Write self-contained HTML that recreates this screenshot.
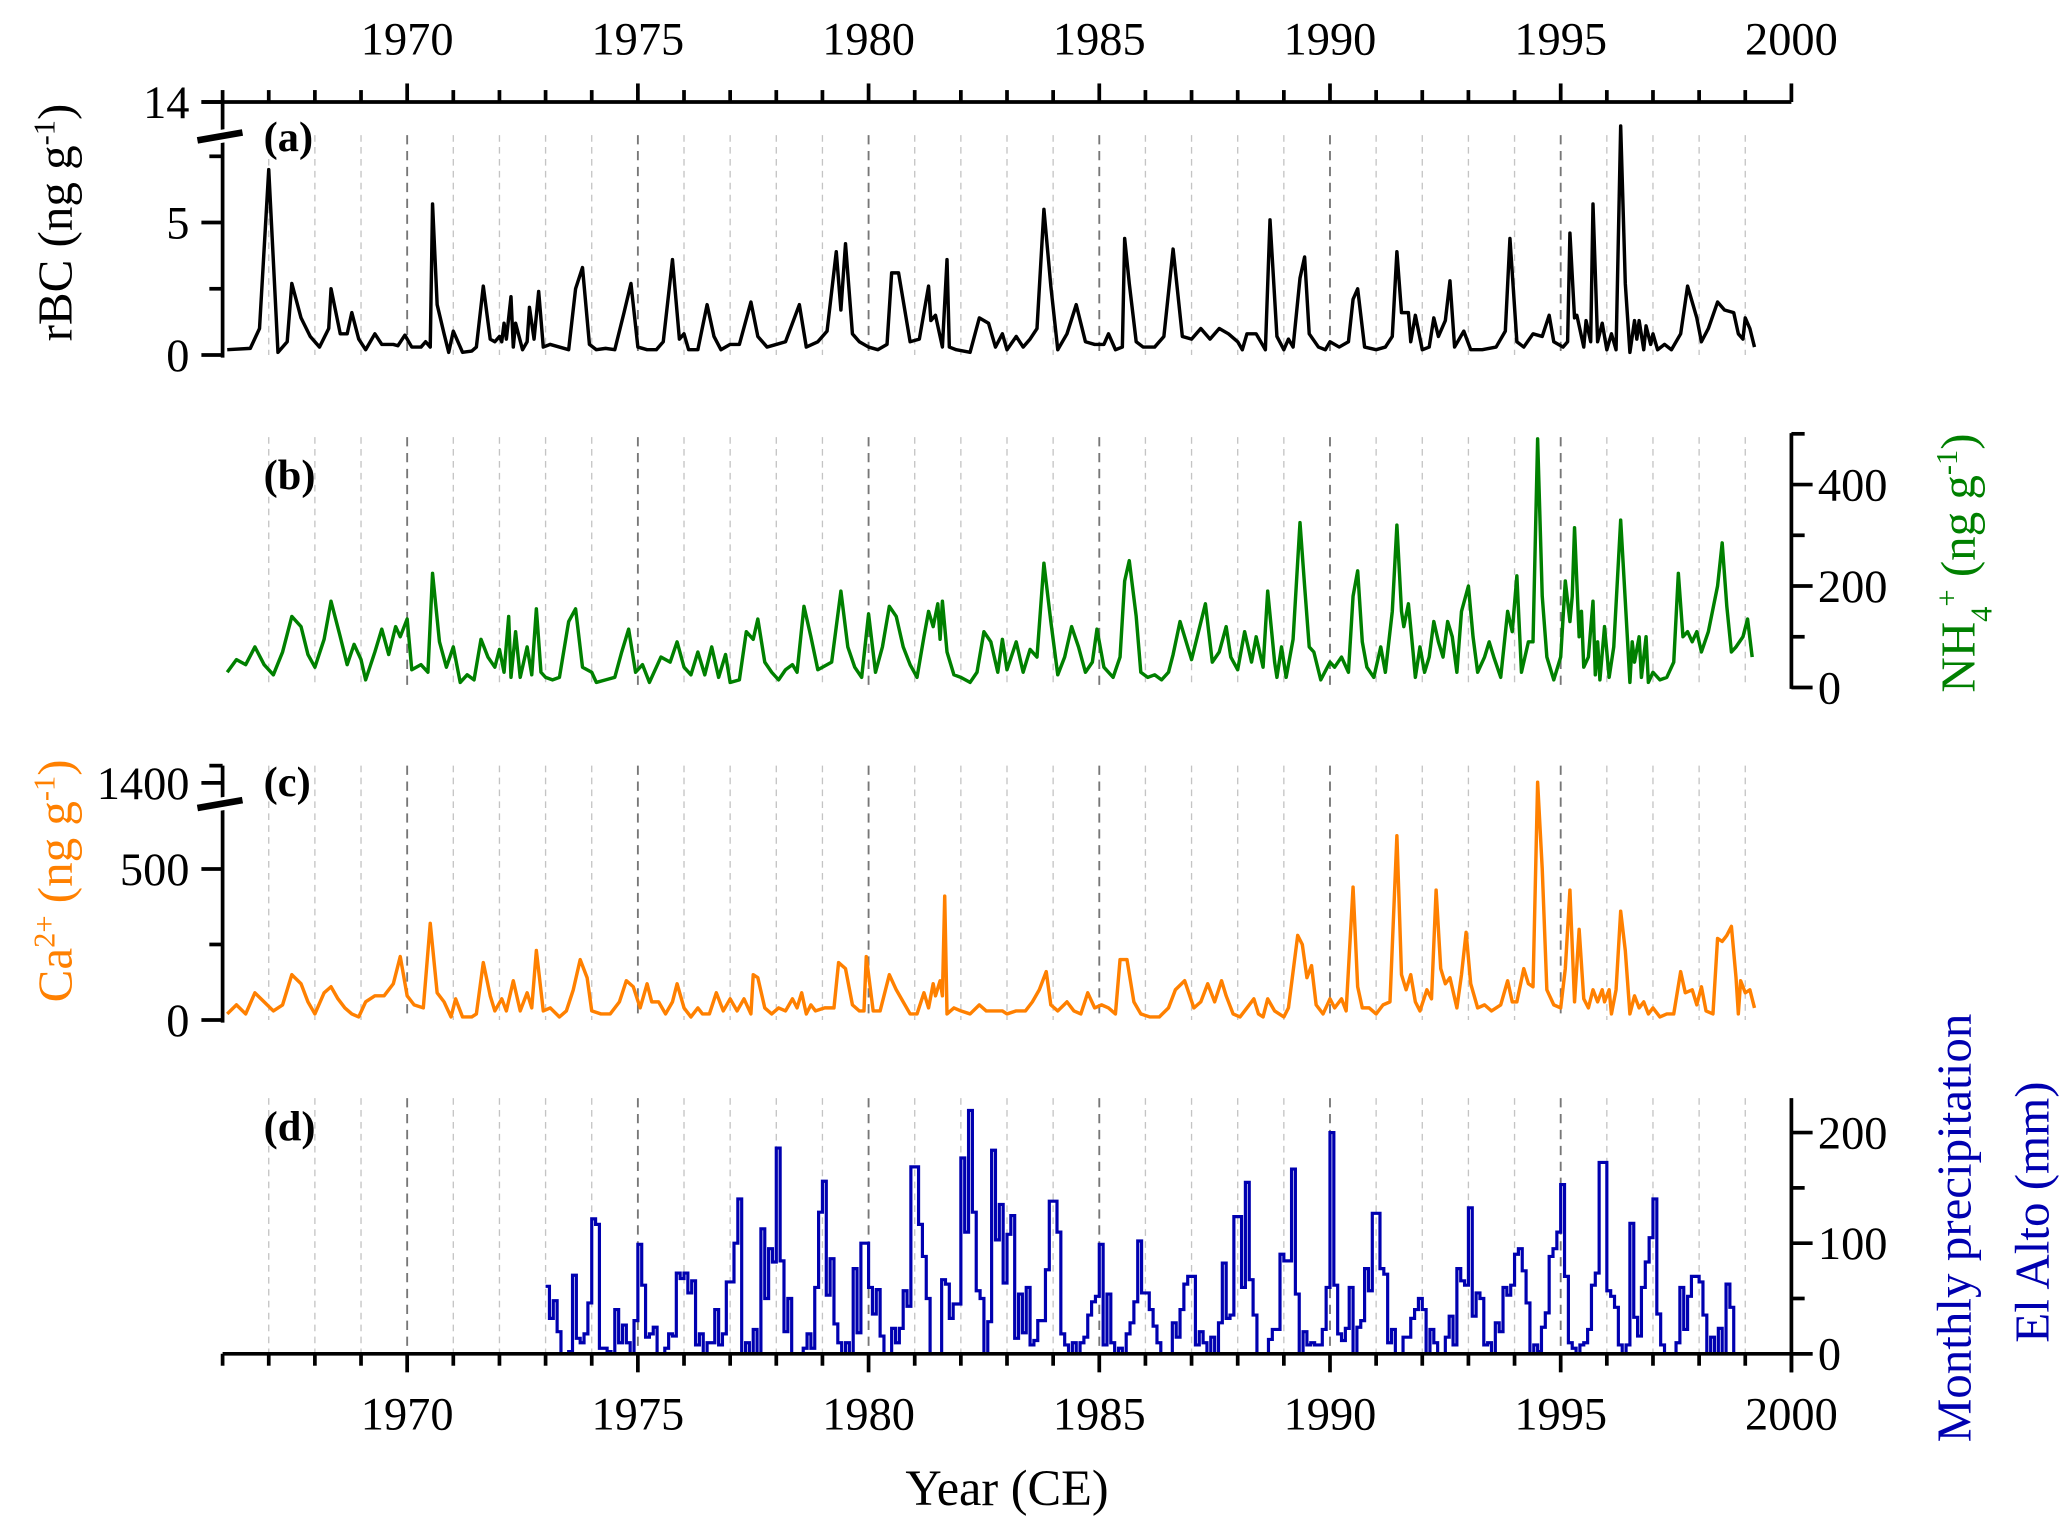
<!DOCTYPE html>
<html><head><meta charset="utf-8"><style>
html,body{margin:0;padding:0;background:#fff}
svg{display:block}
text{font-family:"Liberation Serif",serif}
</style></head><body>
<svg id="chart" width="2067" height="1526" viewBox="0 0 1560 1152" preserveAspectRatio="none" xmlns="http://www.w3.org/2000/svg"></svg>
<script>
// ---- data ----
const rbcYears=[1966.1,1966.6,1966.8,1967.0,1967.2,1967.4,1967.5,1967.7,1967.9,1968.1,1968.3,1968.35,1968.55,1968.7,1968.8,1968.95,1969.1,1969.3,1969.45,1969.7,1969.8,1969.95,1970.1,1970.3,1970.4,1970.5,1970.55,1970.65,1970.8,1970.9,1971.0,1971.2,1971.4,1971.5,1971.65,1971.8,1971.9,1972.0,1972.05,1972.1,1972.15,1972.25,1972.3,1972.35,1972.5,1972.6,1972.65,1972.75,1972.85,1972.95,1973.1,1973.3,1973.5,1973.65,1973.8,1973.95,1974.1,1974.3,1974.5,1974.7,1974.85,1975.0,1975.2,1975.4,1975.55,1975.75,1975.9,1976.0,1976.1,1976.3,1976.5,1976.65,1976.8,1977.0,1977.2,1977.45,1977.6,1977.8,1978.0,1978.2,1978.5,1978.65,1978.9,1979.1,1979.3,1979.4,1979.5,1979.65,1979.8,1980.0,1980.2,1980.4,1980.5,1980.65,1980.9,1981.1,1981.3,1981.35,1981.45,1981.6,1981.7,1981.75,1981.9,1982.2,1982.4,1982.6,1982.75,1982.9,1983.0,1983.2,1983.35,1983.5,1983.65,1983.8,1983.95,1984.1,1984.3,1984.5,1984.7,1984.9,1985.1,1985.2,1985.35,1985.5,1985.55,1985.65,1985.8,1985.95,1986.2,1986.4,1986.6,1986.8,1987.0,1987.2,1987.4,1987.6,1987.8,1988.0,1988.1,1988.2,1988.4,1988.6,1988.7,1988.85,1989.0,1989.1,1989.2,1989.35,1989.45,1989.55,1989.75,1989.9,1990.0,1990.2,1990.4,1990.5,1990.6,1990.75,1991.0,1991.2,1991.35,1991.45,1991.55,1991.7,1991.75,1991.85,1992.0,1992.15,1992.25,1992.35,1992.5,1992.6,1992.7,1992.9,1993.05,1993.3,1993.6,1993.8,1993.9,1994.05,1994.2,1994.4,1994.6,1994.75,1994.85,1995.05,1995.15,1995.2,1995.3,1995.35,1995.5,1995.55,1995.65,1995.7,1995.8,1995.9,1996.0,1996.1,1996.2,1996.3,1996.4,1996.5,1996.6,1996.65,1996.7,1996.8,1996.85,1996.95,1997.0,1997.1,1997.25,1997.4,1997.6,1997.75,1997.95,1998.05,1998.2,1998.4,1998.55,1998.75,1998.85,1998.95,1999.0,1999.1,1999.2];
const rbcValues=[0.2,0.25,1.0,7.0,0.1,0.5,2.7,1.4,0.7,0.3,1.0,2.5,0.8,0.8,1.6,0.6,0.2,0.8,0.4,0.4,0.35,0.75,0.3,0.3,0.5,0.3,5.7,1.9,0.8,0.1,0.9,0.1,0.15,0.3,2.6,0.6,0.5,0.7,0.5,1.2,0.6,2.2,0.3,1.2,0.2,0.5,1.8,0.6,2.4,0.3,0.4,0.3,0.2,2.5,3.3,0.4,0.2,0.25,0.2,1.6,2.7,0.3,0.2,0.2,0.5,3.6,0.6,0.8,0.2,0.2,1.9,0.7,0.2,0.4,0.4,2.0,0.7,0.3,0.4,0.5,1.9,0.3,0.5,0.9,3.9,1.7,4.2,0.8,0.5,0.3,0.2,0.4,3.1,3.1,0.5,0.6,2.6,1.3,1.5,0.3,3.6,0.3,0.2,0.1,1.4,1.2,0.3,0.8,0.2,0.7,0.3,0.6,1.0,5.5,2.6,0.2,0.8,1.9,0.5,0.4,0.4,0.8,0.2,0.3,4.4,2.7,0.5,0.3,0.3,0.7,4.0,0.7,0.6,1.0,0.6,1.0,0.8,0.5,0.2,0.8,0.8,0.2,5.1,0.7,0.2,0.6,0.3,2.9,3.7,0.8,0.3,0.2,0.5,0.3,0.5,2.1,2.5,0.3,0.2,0.3,0.7,3.9,1.6,1.6,0.5,1.5,0.2,0.3,1.4,0.7,1.3,2.8,0.3,0.9,0.2,0.2,0.3,0.9,4.4,0.5,0.3,0.8,0.7,1.5,0.5,0.3,0.5,4.6,1.4,1.5,0.3,1.3,0.5,5.7,0.5,1.2,0.2,0.8,0.2,10.0,2.7,0.1,1.3,0.6,1.3,0.2,1.1,0.4,0.8,0.2,0.4,0.2,0.8,2.6,1.4,0.5,1.0,2.0,1.7,1.6,0.8,0.6,1.4,1.0,0.3];

const nh4Years=[1966.1,1966.3,1966.5,1966.7,1966.9,1967.1,1967.3,1967.5,1967.7,1967.85,1968.0,1968.2,1968.35,1968.55,1968.7,1968.85,1969.0,1969.1,1969.3,1969.45,1969.6,1969.75,1969.85,1970.0,1970.1,1970.3,1970.45,1970.55,1970.7,1970.85,1971.0,1971.15,1971.3,1971.45,1971.6,1971.75,1971.9,1972.0,1972.1,1972.2,1972.25,1972.35,1972.45,1972.6,1972.7,1972.8,1972.9,1973.0,1973.15,1973.3,1973.5,1973.65,1973.8,1974.0,1974.1,1974.3,1974.5,1974.65,1974.8,1974.95,1975.1,1975.25,1975.5,1975.7,1975.85,1976.0,1976.15,1976.3,1976.45,1976.6,1976.75,1976.9,1977.0,1977.2,1977.35,1977.5,1977.6,1977.75,1977.9,1978.05,1978.2,1978.35,1978.45,1978.6,1978.75,1978.9,1979.0,1979.2,1979.4,1979.55,1979.7,1979.85,1980.0,1980.15,1980.3,1980.45,1980.6,1980.75,1980.9,1981.05,1981.2,1981.3,1981.4,1981.5,1981.55,1981.6,1981.7,1981.85,1982.0,1982.2,1982.35,1982.5,1982.65,1982.8,1982.9,1983.0,1983.2,1983.35,1983.5,1983.65,1983.8,1983.95,1984.1,1984.25,1984.4,1984.55,1984.7,1984.85,1984.95,1985.1,1985.3,1985.45,1985.55,1985.65,1985.8,1985.9,1986.05,1986.2,1986.35,1986.5,1986.6,1986.75,1986.9,1987.0,1987.15,1987.3,1987.45,1987.6,1987.75,1987.85,1988.0,1988.15,1988.3,1988.4,1988.55,1988.65,1988.8,1988.85,1988.95,1989.05,1989.2,1989.35,1989.45,1989.55,1989.65,1989.8,1990.0,1990.1,1990.25,1990.4,1990.5,1990.6,1990.7,1990.8,1990.95,1991.1,1991.2,1991.35,1991.45,1991.55,1991.6,1991.7,1991.8,1991.85,1991.95,1992.05,1992.15,1992.25,1992.35,1992.45,1992.55,1992.65,1992.75,1992.85,1993.0,1993.1,1993.2,1993.35,1993.45,1993.55,1993.7,1993.85,1993.95,1994.05,1994.15,1994.3,1994.4,1994.5,1994.6,1994.7,1994.85,1995.0,1995.1,1995.2,1995.25,1995.3,1995.4,1995.45,1995.5,1995.6,1995.7,1995.75,1995.8,1995.85,1995.95,1996.05,1996.15,1996.3,1996.4,1996.5,1996.55,1996.6,1996.7,1996.75,1996.85,1996.9,1997.0,1997.15,1997.3,1997.45,1997.55,1997.65,1997.75,1997.85,1997.95,1998.05,1998.2,1998.4,1998.5,1998.6,1998.7,1998.8,1998.95,1999.05,1999.15];
const nh4Values=[30,55,45,80,45,25,70,140,120,65,40,95,170,100,45,85,55,15,70,115,65,120,100,135,35,45,30,225,90,40,80,10,25,15,95,60,40,75,30,140,20,110,20,80,25,155,30,20,15,20,130,155,40,30,10,15,20,70,115,30,45,10,60,50,90,40,25,70,25,80,20,65,10,15,110,95,135,50,30,15,35,45,30,160,100,35,40,50,190,80,40,20,145,30,80,160,140,80,45,20,100,150,120,165,95,170,70,25,20,10,30,110,90,30,95,35,90,30,75,60,245,130,25,60,120,80,30,50,115,40,20,60,210,250,140,30,20,25,15,30,65,130,85,55,110,165,50,70,120,60,35,110,50,100,40,190,50,20,80,20,95,325,200,80,70,15,50,40,60,30,180,230,90,40,20,80,30,150,320,150,120,165,70,20,80,30,60,130,90,60,130,100,30,150,200,100,30,60,90,60,20,150,110,220,30,90,90,490,180,60,15,60,210,130,180,315,100,150,40,60,170,25,90,15,120,20,80,330,170,10,90,50,100,20,100,10,30,15,20,50,225,100,110,90,110,70,110,200,285,160,70,80,100,135,60];

const caYears=[1966.1,1966.3,1966.5,1966.7,1966.9,1967.1,1967.3,1967.5,1967.7,1967.85,1968.0,1968.2,1968.35,1968.5,1968.65,1968.8,1968.95,1969.1,1969.3,1969.5,1969.7,1969.85,1970.0,1970.15,1970.35,1970.5,1970.65,1970.8,1970.95,1971.05,1971.2,1971.4,1971.5,1971.65,1971.8,1971.9,1972.05,1972.15,1972.3,1972.45,1972.6,1972.7,1972.8,1972.95,1973.1,1973.3,1973.45,1973.6,1973.75,1973.9,1974.0,1974.2,1974.4,1974.6,1974.75,1974.9,1975.05,1975.2,1975.3,1975.45,1975.6,1975.75,1975.85,1976.0,1976.15,1976.3,1976.4,1976.55,1976.7,1976.85,1977.0,1977.15,1977.3,1977.45,1977.5,1977.6,1977.75,1977.9,1978.05,1978.2,1978.35,1978.45,1978.55,1978.65,1978.75,1978.85,1979.05,1979.25,1979.35,1979.5,1979.65,1979.8,1979.9,1979.95,1980.1,1980.25,1980.45,1980.6,1980.75,1980.9,1981.05,1981.2,1981.3,1981.4,1981.45,1981.55,1981.6,1981.65,1981.7,1981.85,1982.0,1982.2,1982.4,1982.55,1982.7,1982.9,1983.0,1983.2,1983.4,1983.55,1983.7,1983.85,1983.95,1984.1,1984.3,1984.45,1984.6,1984.75,1984.9,1985.05,1985.2,1985.35,1985.45,1985.6,1985.75,1985.9,1986.1,1986.3,1986.5,1986.65,1986.85,1987.05,1987.2,1987.35,1987.5,1987.65,1987.75,1987.9,1988.05,1988.2,1988.35,1988.45,1988.55,1988.65,1988.8,1989.0,1989.1,1989.3,1989.4,1989.5,1989.6,1989.7,1989.85,1990.0,1990.1,1990.25,1990.35,1990.5,1990.6,1990.7,1990.85,1991.0,1991.15,1991.3,1991.45,1991.55,1991.65,1991.75,1991.85,1991.95,1992.1,1992.2,1992.3,1992.4,1992.5,1992.6,1992.75,1992.85,1992.95,1993.05,1993.2,1993.35,1993.5,1993.7,1993.85,1993.95,1994.05,1994.2,1994.3,1994.4,1994.5,1994.6,1994.7,1994.85,1995.0,1995.1,1995.2,1995.3,1995.4,1995.5,1995.6,1995.7,1995.8,1995.9,1995.95,1996.05,1996.1,1996.2,1996.3,1996.4,1996.5,1996.6,1996.7,1996.8,1996.9,1997.0,1997.15,1997.3,1997.45,1997.6,1997.7,1997.85,1997.95,1998.05,1998.15,1998.3,1998.4,1998.5,1998.6,1998.7,1998.8,1998.85,1998.9,1999.0,1999.1,1999.2];
const caValues=[20,50,20,90,60,30,50,150,120,60,20,90,110,70,40,20,10,60,80,80,120,210,80,50,40,320,90,60,10,70,10,10,20,190,80,30,70,30,130,30,90,40,230,30,40,10,30,100,200,140,30,20,20,60,130,110,40,120,60,60,20,60,120,40,10,40,20,20,90,30,70,30,70,20,150,140,40,20,40,30,70,40,90,20,50,30,40,40,190,170,50,30,30,210,30,30,150,100,60,20,20,90,40,120,80,130,80,410,20,40,30,20,50,30,30,30,20,30,30,60,100,160,50,30,60,30,20,90,40,50,40,20,200,200,60,20,10,10,40,100,130,40,60,120,60,130,80,20,10,40,70,20,10,70,30,10,40,280,250,140,180,50,20,70,40,70,30,440,110,40,40,20,50,60,610,150,100,150,60,30,100,70,430,170,120,140,40,150,290,120,40,50,30,50,130,60,60,170,120,110,1420,500,100,50,40,170,430,60,300,70,40,100,60,100,60,100,20,100,360,230,20,80,40,60,20,40,10,20,20,160,90,100,50,110,30,20,270,260,280,310,140,20,130,90,100,40];

const precipStartYear=1973;
const precipMonthly=[
61,32,48,20,0,0,2,71,14,10,18,46,
122,117,5,5,2,0,40,10,26,10,0,30,
99,62,15,18,24,0,0,5,18,16,73,68,
73,55,66,8,18,0,10,10,40,8,18,65,
65,100,140,0,10,0,22,0,113,50,95,83,
186,84,20,50,0,0,0,5,18,5,60,128,
156,53,86,27,10,0,10,0,77,19,100,100,
60,36,58,16,0,0,23,10,23,57,43,169,
169,117,88,50,0,0,0,67,63,32,45,45,
177,110,220,128,57,50,0,29,184,103,135,64,
108,125,14,54,19,60,8,12,30,30,76,138,
138,110,18,8,0,10,0,10,15,35,47,52,
99,8,54,10,0,5,0,18,28,47,102,55,
55,40,25,10,0,0,0,28,15,40,63,70,
70,8,20,10,0,15,0,28,82,32,35,124,
124,60,155,67,35,0,0,0,13,22,22,90,
84,84,167,54,0,20,8,10,8,8,22,60,
200,62,18,12,23,60,0,24,30,77,57,127,
127,77,72,10,22,0,0,15,15,32,40,50,
40,0,22,10,0,0,15,34,8,77,66,62,
132,34,55,50,8,10,0,28,20,60,53,62,
90,95,75,46,0,8,2,24,37,88,95,110,
153,70,10,5,0,8,10,22,62,73,173,173,
57,52,42,8,0,8,118,33,16,60,83,105,
140,36,8,0,0,0,10,60,22,52,70,70,
65,35,0,15,0,23,0,63,42,0,0,0];

const xTickYears=[1970,1975,1980,1985,1990,1995,2000];
const rbcTicks=[0,5,14];
const nh4Ticks=[0,200,400];
const caTicks=[0,500,1400];
const precipTicks=[0,100,200];

// ---- scales ----
const X0=168, X1=1352, Y0=1966, Y1=2000;
const xS=y=>X0+(y-Y0)*(X1-X0)/(Y1-Y0);
const rbcS=v=>v<=8.25?268-20*v:103-(v-8.25)/(14-8.25)*26;
const nh4S=v=>519-0.383*v;
const caS=v=>v<=715?770-0.228*v:607-(v-715)/(1400-715)*16;
const prS=v=>1022-0.835*v;

const svg=document.getElementById('chart');
const NS='http://www.w3.org/2000/svg';
function mk(tag,attrs,parent){const e=document.createElementNS(NS,tag);for(const k in attrs)e.setAttribute(k,attrs[k]);(parent||svg).appendChild(e);return e;}
function txt(s,attrs,parent){const e=mk('text',attrs,parent);e.textContent=s;return e;}

// grid lines
const panels=[[102,268],[330,519],[578,770],[829,1022]];
const grid=mk('g',{});


for(const [t,b] of panels){
  for(let yr=1967;yr<2000;yr++){
    const major=yr%5===0;
    const l=mk('line',{x1:xS(yr),x2:xS(yr),y1:t,y2:b,stroke:major?'#777':'#c4c4c4','stroke-width':major?1.4:1,'stroke-dasharray':major?'7,5':'5,4'},grid);
    
    
  }
}

function series(years,vals,sc,color,name){
  let d='';
  for(let i=0;i<years.length;i++){d+=(i?'L':'M')+xS(years[i]).toFixed(2)+','+sc(vals[i]).toFixed(2);}
  const p=mk('path',{d:d,fill:'none',stroke:color,'stroke-width':2.6,'stroke-linejoin':'round'});
  
  
}
series(rbcYears,rbcValues,rbcS,'#000','rbc-line');
series(nh4Years,nh4Values,nh4S,'#008000','nh4-line');
series(caYears,caValues,caS,'#ff8000','ca-line');
// precip step
{
  let d='';
  for(let i=0;i<precipMonthly.length;i++){
    const a=xS(precipStartYear+i/12), b=xS(precipStartYear+(i+1)/12), y=prS(precipMonthly[i]);
    d+=(i?'L':'M')+a.toFixed(2)+','+y.toFixed(2)+'L'+b.toFixed(2)+','+y.toFixed(2);
  }
  const p=mk('path',{d:d,fill:'none',stroke:'#0000b0','stroke-width':2.4});
  
  
}

// axes
const ax=mk('g',{stroke:'#000','stroke-width':2.8,fill:'none'});


mk('line',{x1:152,x2:1352,y1:77,y2:77},ax);
mk('line',{x1:168,x2:1368,y1:1022,y2:1022},ax);
for(let yr=1966;yr<=2000;yr++){
  const major=yr%5===0;
  mk('line',{x1:xS(yr),x2:xS(yr),y1:77,y2:major?63:68},ax);
  mk('line',{x1:xS(yr),x2:xS(yr),y1:1022,y2:major?1036:1031},ax);
}
mk('line',{x1:168,x2:168,y1:77,y2:270},ax);
for(const v of rbcTicks) mk('line',{x1:152,x2:168,y1:rbcS(v),y2:rbcS(v)},ax);
for(const v of [2.5,7.5]) mk('line',{x1:158,x2:168,y1:rbcS(v),y2:rbcS(v)},ax);
mk('line',{x1:1352,x2:1352,y1:327,y2:520},ax);
for(const v of nh4Ticks) mk('line',{x1:1352,x2:1368,y1:nh4S(v),y2:nh4S(v)},ax);
for(const v of [100,300,500]) mk('line',{x1:1352,x2:1362,y1:nh4S(v),y2:nh4S(v)},ax);
mk('line',{x1:168,x2:168,y1:578,y2:772},ax);
for(const v of caTicks) mk('line',{x1:152,x2:168,y1:caS(v),y2:caS(v)},ax);
for(const v of [250]) mk('line',{x1:158,x2:168,y1:caS(v),y2:caS(v)},ax);
mk('line',{x1:158,x2:168,y1:578,y2:578},ax);
mk('line',{x1:1352,x2:1352,y1:829,y2:1036},ax);
for(const v of precipTicks) mk('line',{x1:1352,x2:1368,y1:prS(v),y2:prS(v)},ax);
for(const v of [50,150]) mk('line',{x1:1352,x2:1362,y1:prS(v),y2:prS(v)},ax);

// axis breaks
function brk(y,name){
  const g=mk('g',{});
  
  
  mk('polygon',{points:`148,${y-2} 185,${y-8} 185,${y+2} 148,${y+8}`,fill:'#fff'},g);
  mk('line',{x1:149,x2:183,y1:y+3,y2:y-3,stroke:'#000','stroke-width':5},g);
}
brk(103,'rbc-axis-break');
brk(607,'ca-axis-break');

// tick labels
const lf={'font-size':35,fill:'#000'};
for(const yr of xTickYears){
  const t=txt(String(yr),Object.assign({x:xS(yr),y:41,'text-anchor':'middle'},lf));
  
  
  const b=txt(String(yr),Object.assign({x:xS(yr),y:1079,'text-anchor':'middle'},lf));
  
  
}
function ylab(vals,sc,x,anchor,name){
  for(const v of vals){
    const t=txt(String(v),Object.assign({x:x,y:sc(v)+12,'text-anchor':anchor},lf));
    
    
  }
}
ylab(rbcTicks,rbcS,143,'end','rbc-tick-label');
ylab(nh4Ticks,nh4S,1372,'start','nh4-tick-label');
ylab(caTicks,caS,143,'end','ca-tick-label');
ylab(precipTicks,prS,1372,'start','precip-tick-label');
</script>
<script>
const s2=document.getElementById('chart');
s2.insertAdjacentHTML('beforeend',`
<text x="199" y="114" font-size="32" font-weight="bold">(a)</text>
<text x="199" y="369" font-size="32" font-weight="bold">(b)</text>
<text x="199" y="601" font-size="32" font-weight="bold">(c)</text>
<text x="199" y="861" font-size="32" font-weight="bold">(d)</text>
<text transform="translate(54,168) rotate(-90)" text-anchor="middle" font-size="37">rBC (ng g<tspan baseline-shift="super" font-size="23">-1</tspan>)</text>
<text transform="translate(54,665) rotate(-90)" text-anchor="middle" font-size="37" fill="#ff8000">Ca<tspan baseline-shift="super" font-size="23">2+</tspan> (ng g<tspan baseline-shift="super" font-size="23">-1</tspan>)</text>
<text transform="translate(1490,425) rotate(-90)" text-anchor="middle" font-size="37" fill="#008000">NH<tspan baseline-shift="sub" font-size="23">4</tspan><tspan baseline-shift="super" font-size="23">+</tspan> (ng g<tspan baseline-shift="super" font-size="23">-1</tspan>)</text>
<text transform="translate(1487,927) rotate(-90)" text-anchor="middle" font-size="37" fill="#0000b0">Monthly precipitation</text>
<text transform="translate(1546,915) rotate(-90)" text-anchor="middle" font-size="37" fill="#0000b0">El Alto (mm)</text>
<text x="760" y="1136" text-anchor="middle" font-size="38">Year (CE)</text>
`);
</script>
</body></html>
